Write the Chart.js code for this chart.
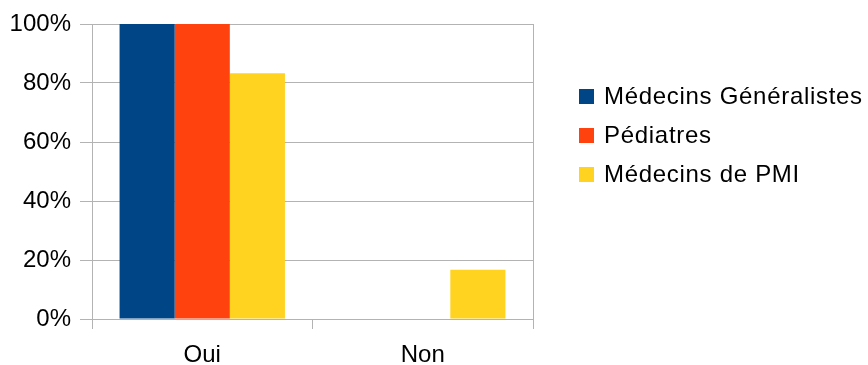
<!DOCTYPE html>
<html><head><meta charset="utf-8">
<script src="https://cdn.jsdelivr.net/npm/chart.js@4/dist/chart.umd.min.js"></script>
<style>html,body{margin:0;padding:0;background:#fff}#wrap{width:868px;height:365px;position:relative}</style>
</head><body><div id="wrap"><canvas id="c" width="868" height="365"></canvas></div>
<script>
const categories = ["Oui", "Non"];
const seriesNames = ["Médecins Généralistes", "Pédiatres", "Médecins de PMI"];
const generalistes = [100, 0];
const pediatres = [100, 0];
const pmi = [83.3, 16.7];
const yTicks = [0, 20, 40, 60, 80, 100];
const colors = ["#004586", "#ff420e", "#ffd320"];

const FONT = "'Liberation Sans', Arial, sans-serif";
const GRID = "#b3b3b3";

const legendPlugin = {
  id: 'sideLegend',
  afterDraw(chart) {
    const ctx = chart.ctx;
    ctx.save();
    ctx.font = "24px " + FONT;
    try { ctx.letterSpacing = '0.7px'; } catch (e) {}
    ctx.textBaseline = 'alphabetic';
    chart.data.datasets.forEach((ds, i) => {
      const base = 104 + i * 39;
      ctx.fillStyle = ds.backgroundColor;
      ctx.fillRect(579, base - 15, 15, 15);
      ctx.fillStyle = '#000';
      ctx.fillText(ds.label, 604, base);
    });
    ctx.restore();
  }
};

new Chart(document.getElementById('c'), {
  type: 'bar',
  data: {
    labels: categories,
    datasets: [
      { label: seriesNames[0], data: generalistes, backgroundColor: colors[0] },
      { label: seriesNames[1], data: pediatres, backgroundColor: colors[1] },
      { label: seriesNames[2], data: pmi, backgroundColor: colors[2] }
    ]
  },
  options: {
    responsive: false,
    animation: false,
    devicePixelRatio: 1,
    layout: { padding: { left: 0, top: 24, right: 335, bottom: 0 } },
    categoryPercentage: 0.75,
    barPercentage: 1.0,
    plugins: { legend: { display: false }, tooltip: { enabled: false } },
    scales: {
      x: {
        offset: true,
        grid: {
          offset: true,
          drawOnChartArea: true,
          color: (c) => (c.index === 1 ? 'rgba(0,0,0,0)' : GRID),
          tickColor: GRID,
          tickLength: 10,
          lineWidth: 1
        },
        border: { color: GRID },
        ticks: { color: '#000', font: { family: FONT, size: 24 }, padding: 12 },
        afterFit: (s) => { s.height = 46; }
      },
      y: {
        min: 0, max: 100,
        afterBuildTicks: (s) => { s.ticks = yTicks.map(v => ({ value: v })); },
        grid: { color: GRID, tickColor: GRID, tickLength: 12 },
        border: { color: GRID },
        ticks: { color: '#000', font: { family: FONT, size: 24 }, padding: 9, callback: (v) => v + '%' },
        afterFit: (s) => { s.width = 92; }
      }
    }
  },
  plugins: [legendPlugin]
});
</script></body></html>
